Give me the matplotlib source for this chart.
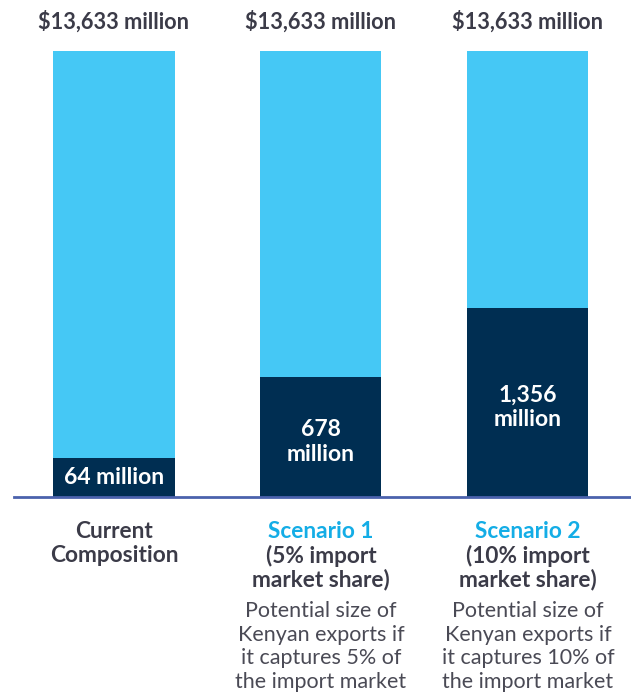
import matplotlib
matplotlib.use("Agg")
import matplotlib.pyplot as plt
from matplotlib.transforms import blended_transform_factory

# values as printed on the chart
totals = [13633, 13633, 13633]
dark_values = [64, 678, 1356]
# the picture does not draw the dark part to scale; heights
dark_drawn = [1190, 3670, 5780]

total_labels = ["$13,633 million"] * 3
dark_labels = ["64 million", "678\nmillion", "1,356\nmillion"]
head_lines = [["Current", "Composition"],
              ["Scenario 1", "(5% import", "market share)"],
              ["Scenario 2", "(10% import", "market share)"]]
desc_lines = [[],
              ["Potential size of", "Kenyan exports if", "it captures 5% of", "the import market"],
              ["Potential size of", "Kenyan exports if", "it captures 10% of", "the import market"]]

LIGHT = "#45c8f5"
DARK = "#002e52"
GREY = "#3b3b48"
BLUE = "#14ade6"

plt.rcParams['font.family'] = ['Lato', 'DejaVu Sans']

W, H = 631, 696
fig = plt.figure(figsize=(W / 100, H / 100), dpi=100)
ax = fig.add_axes([14 / W, 1 - 497 / H, 1 - 14 / W, (497 - 51) / H])

x = list(range(len(totals)))
ax.bar(x, totals, width=0.585, color=LIGHT, zorder=1)
ax.bar(x, dark_drawn, width=0.585, color=DARK, zorder=2)
ax.set_xlim(-0.483, 2.498)
ax.set_ylim(0, 13633)
ax.axhline(0, color="#4b62ad", lw=2, zorder=3, clip_on=False)
for s in ax.spines.values():
    s.set_visible(False)
ax.set_xticks([])
ax.set_yticks([])

tr = blended_transform_factory(ax.transData, fig.transFigure)

for i in x:
    fig.text(i, 1 - 22 / H, total_labels[i], transform=tr, ha="center", va="center",
             fontsize=15.7, fontweight="bold", color=GREY)
    # two-line labels sit a little below the middle of the dark block
    yoff = -150 if "\n" in dark_labels[i] else 0
    ax.text(i, dark_drawn[i] / 2 + yoff, dark_labels[i], ha="center", va="center",
            fontsize=16.5, fontweight="bold", color="white", linespacing=1.2)
    y = 531
    for k, line in enumerate(head_lines[i]):
        col = BLUE if (k == 0 and i > 0) else GREY
        fig.text(i, 1 - y / H, line, transform=tr, ha="center", va="center",
                 fontsize=16.3, fontweight="bold", color=col)
        y += 24.5
    y = 611
    for line in desc_lines[i]:
        fig.text(i, 1 - y / H, line, transform=tr, ha="center", va="center",
                 fontsize=15.5, fontweight="normal", color="#4a4a55")
        y += 23.7

fig.savefig("out.png", dpi=100)
